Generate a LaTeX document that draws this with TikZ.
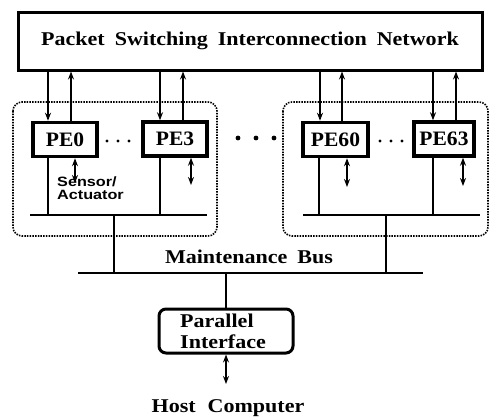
\documentclass[tikz,border=0pt]{standalone}
\usepackage{fontspec}
\newfontfamily\wserif[FakeStretch=1.13]{Liberation Serif}
\newfontfamily\peserif[FakeStretch=1.05]{Liberation Serif}
\newfontfamily\wsans[FakeStretch=1.2]{Liberation Sans}
\usetikzlibrary{arrows.meta}
\begin{document}
\begin{tikzpicture}[x=1pt,y=-1pt,
  serif/.style={font=\wserif\bfseries\fontsize{19.5}{21}\selectfont},
  pebox/.style={draw, line width=3.5pt, minimum height=34pt, inner sep=0pt, font=\peserif\bfseries\fontsize{20.5}{21}\selectfont},
  dotbox/.style={draw, line width=1.6pt, dash pattern=on 1.5pt off 1.2pt, rounded corners=9pt},
  wire/.style={line width=1.7pt},
  arr/.style={wire, -{Stealth[length=8pt,width=6pt]}},
  darr/.style={wire, {Stealth[length=8pt,width=6pt]}-{Stealth[length=8pt,width=6pt]}},
  dot/.style={circle, fill, inner sep=0pt, minimum size=3.2pt},
  bigdot/.style={circle, fill, inner sep=0pt, minimum size=4.8pt}]
\useasboundingbox (0,0) rectangle (491,416);

% network
\node[draw, line width=3pt, minimum width=464pt, minimum height=58pt, inner sep=0pt, serif] (net) at (250,41)
  {Packet\hspace{10pt}Switching\hspace{10pt}Interconnection\hspace{10pt}Network};

% dotted clusters
\draw[dotbox] (13,102) rectangle (217,236);
\draw[dotbox] (283,102) rectangle (488,236);

% PEs
\node[pebox, minimum width=64pt] (pe0) at (65,139.5) {PE0};
\node[pebox, minimum width=64pt] (pe3) at (175,139) {PE3};
\node[pebox, minimum width=65pt] (pe60) at (335.5,139.5) {PE60};
\node[pebox, minimum width=60pt] (pe63) at (444,139) {PE63};

% network <-> PE arrows
\foreach \p/\d/\u in {pe0/48/71, pe3/160/183, pe60/320/342, pe63/433/456}{
  \draw[arr] (net.south -| \d,0) -- (\p.north -| \d,0);
  \draw[arr] (\p.north -| \u,0) -- (net.south -| \u,0);
}

% sensor/actuator arrows
\coordinate (s0) at (75,183);
\coordinate (s3) at (191,185);
\coordinate (s60) at (347,187);
\coordinate (s63) at (463,186);
\draw[darr] (pe0.south -| s0) -- (s0);
\draw[darr] (pe3.south -| s3) -- (s3);
\draw[darr] (pe60.south -| s60) -- (s60);
\draw[darr] (pe63.south -| s63) -- (s63);

\node[font=\wsans\bfseries\fontsize{13.5}{12.5}\selectfont, align=left, anchor=north west, inner sep=0pt] (sa) at (57,177) {Sensor/\\Actuator};

% local buses
\coordinate (lbl) at (30,215);
\coordinate (lbr) at (207,215);
\coordinate (rbl) at (303,215);
\coordinate (rbr) at (480,215);
\draw[wire] (lbl) -- (lbr);
\draw[wire] (rbl) -- (rbr);
\draw[wire] (pe0.south -| 48,0) -- (48,215);
\draw[wire] (pe3.south -| 160,0) -- (160,215);
\draw[wire] (pe60.south -| 319,0) -- (319,215);
\draw[wire] (pe63.south -| 433,0) -- (433,215);

% dots
\node[dot] (d1) at (107,141) {};
\node[dot] (d2) at (118,141) {};
\node[dot] (d3) at (129,141) {};
\node[bigdot] (d4) at (238,138) {};
\node[bigdot] (d5) at (256,138) {};
\node[bigdot] (d6) at (274,138) {};
\node[dot] (d7) at (380,141) {};
\node[dot] (d8) at (391,141) {};
\node[dot] (d9) at (402,141) {};

% maintenance bus
\coordinate (mbl) at (78,273);
\coordinate (mbr) at (423,273);
\draw[wire] (mbl) -- (mbr);
\draw[wire] (114,215) -- (114,273);
\draw[wire] (386,215) -- (386,273);
\node[serif, inner sep=0pt] (mb) at (249,257) {Maintenance\hspace{10pt}Bus};

% parallel interface
\node[draw, line width=3pt, rounded corners=7pt, minimum width=134pt, minimum height=44pt, inner sep=0pt] (pi) at (226,331) {};
\node[serif, align=left, anchor=west, inner sep=0pt] (pit) at (180,331) {Parallel\\Interface};
\draw[wire] (226,273) -- (pi.north);
\coordinate (hc) at (226,384);
\draw[darr] (pi.south) -- (hc);
\node[serif, inner sep=0pt] (host) at (228,408) {Host\hspace{12pt}Computer};
\end{tikzpicture}
\end{document}
